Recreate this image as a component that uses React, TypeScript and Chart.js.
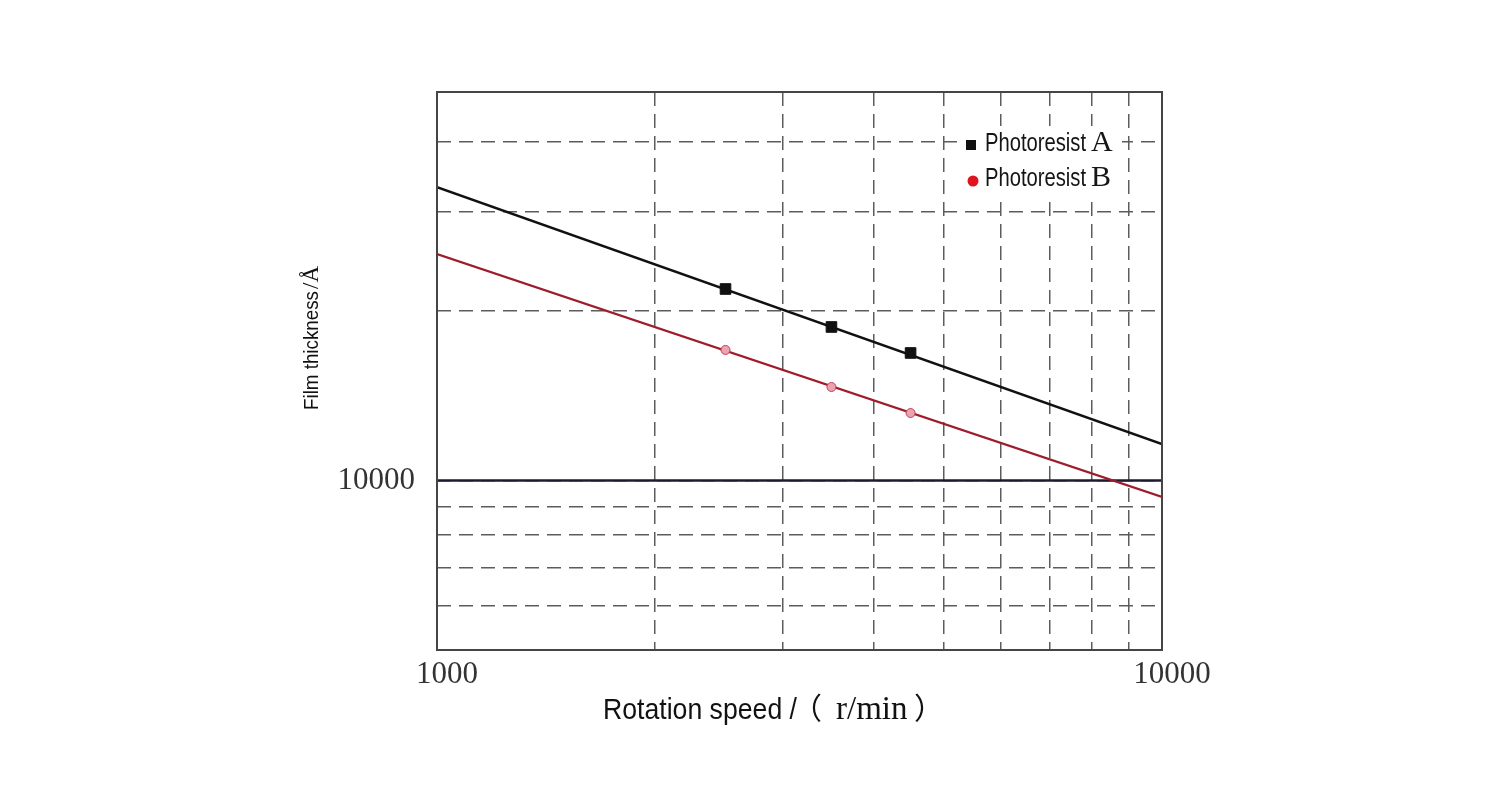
import React, { useEffect, useRef } from "react";
import { Chart, registerables } from "chart.js";

Chart.register(...registerables);

// ---- data ----
const speedFit = [1000, 10000];
const fitA = [33200, 11610];
const fitB = [25250, 9350];
const speedPoints = [2500, 3500, 4500];
const thickA = [21890, 18740, 16850];
const thickB = [17060, 14660, 13180];
const refThickness = [10000, 10000];
const xGridValues = [1000, 2000, 3000, 4000, 5000, 6000, 7000, 8000, 9000, 10000];
const yGridValues = [5000, 6000, 7000, 8000, 9000, 10000, 20000, 30000, 40000];
const xTickLabels = [1000, 10000];
const yTickLabels = [10000];
const yMin = 5000;
const yMax = 49000;
const seriesNames = ["Photoresist", "Photoresist"];
const seriesLetters = ["A", "B"];
const xTitleMain = "Rotation speed /";
const xTitleUnit = ["（", "r/min", "）"];
const yTitleMain = "Film thickness";
const yTitleUnit = "/Å";

const SANS = '"Liberation Sans", Arial, sans-serif';
const SERIF = '"Liberation Serif", "Times New Roman", serif';
const CJK_SERIF = '"Liberation Serif", "Noto Sans CJK SC", serif';

function drawFitted(ctx: CanvasRenderingContext2D, text: string, x: number, y: number, font: string, width: number) {
  ctx.font = font;
  const w = ctx.measureText(text).width;
  ctx.save();
  ctx.translate(x, y);
  ctx.scale(width / w, 1);
  ctx.textAlign = "left";
  ctx.textBaseline = "alphabetic";
  ctx.fillText(text, 0, 0);
  ctx.restore();
}

const decorPlugin = {
  id: "decor",
  afterDraw(chart: any) {
    const { ctx, chartArea: a } = chart;
    ctx.save();
    // frame
    ctx.strokeStyle = "#454545";
    ctx.lineWidth = 2;
    ctx.setLineDash([]);
    ctx.strokeRect(a.left, a.top, a.right - a.left, a.bottom - a.top);

    // legend
    const lx = a.right - 205;
    const ly = a.top + 34;
    ctx.fillStyle = "#ffffff";
    ctx.fillRect(lx, ly, 165, 72);
    ctx.fillStyle = "#111";
    ctx.fillRect(lx + 9, ly + 14, 10, 10);
    ctx.fillStyle = "#e0141e";
    ctx.beginPath();
    ctx.arc(lx + 16, ly + 55, 5.5, 0, Math.PI * 2);
    ctx.fill();
    ctx.fillStyle = "#151515";
    drawFitted(ctx, seriesNames[0], lx + 28, ly + 25, `25px ${SANS}`, 101);
    drawFitted(ctx, seriesNames[1], lx + 28, ly + 60, `25px ${SANS}`, 101);
    ctx.font = `30px ${SERIF}`;
    ctx.fillText(seriesLetters[0], lx + 134, ly + 25);
    ctx.fillText(seriesLetters[1], lx + 134, ly + 60);

    // x title
    ctx.fillStyle = "#111";
    drawFitted(ctx, xTitleMain, 603, 719, `30px ${SANS}`, 194);
    ctx.font = `30px ${CJK_SERIF}`;
    ctx.fillText(xTitleUnit[0], 792, 719);
    ctx.font = `33px ${SERIF}`;
    ctx.fillText(xTitleUnit[1], 836, 719);
    ctx.font = `30px ${CJK_SERIF}`;
    ctx.fillText(xTitleUnit[2], 914, 719);

    // y title
    ctx.save();
    ctx.translate(318, 410);
    ctx.rotate(-Math.PI / 2);
    drawFitted(ctx, yTitleMain, 0, 0, `21px ${SANS}`, 119);
    ctx.font = `23px ${SERIF}`;
    ctx.fillText(yTitleUnit, 121, 0);
    ctx.restore();

    ctx.restore();
  },
};

export default function App() {
  const ref = useRef<HTMLCanvasElement>(null);
  useEffect(() => {
    if (!ref.current) return;
    const pts = (xs: number[], ys: number[]) => xs.map((x, i) => ({ x, y: ys[i] }));
    const gridColor = (ctx: any) => {
      const v = ctx.tick && ctx.tick.value;
      return v === 1000 || v === 10000 ? "rgba(0,0,0,0)" : "#5c5c5c";
    };
    const yGridColor = (ctx: any) => {
      const v = ctx.tick && ctx.tick.value;
      return v === 5000 ? "rgba(0,0,0,0)" : "#5c5c5c";
    };
    const chart = new Chart(ref.current, {
      type: "scatter",
      data: {
        datasets: [
          {
            label: "Photoresist A points",
            data: pts(speedPoints, thickA),
            pointStyle: "rect",
            pointRadius: 7.5,
            pointBackgroundColor: "#111",
            pointBorderColor: "#111",
            pointBorderWidth: 1,
            showLine: false,
          },
          {
            label: "Photoresist B points",
            data: pts(speedPoints, thickB),
            pointStyle: "circle",
            pointRadius: 4.5,
            pointBackgroundColor: "#eaa3b1",
            pointBorderColor: "#c8404f",
            pointBorderWidth: 1,
            showLine: false,
          },
          {
            label: "Photoresist A",
            data: pts(speedFit, fitA),
            showLine: true,
            borderColor: "#111",
            borderWidth: 2.6,
            pointRadius: 0,
          },
          {
            label: "Photoresist B",
            data: pts(speedFit, fitB),
            showLine: true,
            borderColor: "#9e1c2c",
            borderWidth: 2.2,
            pointRadius: 0,
          },
          {
            label: "reference",
            data: pts(speedFit, refThickness),
            showLine: true,
            borderColor: "#1c1c30",
            borderWidth: 2.5,
            pointRadius: 0,
          },
        ],
      },
      options: {
        animation: false,
        responsive: false,
        devicePixelRatio: 1,
        layout: { padding: { left: 0, top: 92, right: 338, bottom: 0 } },
        plugins: { legend: { display: false }, tooltip: { enabled: false } },
        scales: {
          x: {
            type: "logarithmic",
            min: 1000,
            max: 10000,
            afterBuildTicks: (s: any) => {
              s.ticks = xGridValues.map((v) => ({ value: v }));
            },
            afterFit: (s: any) => {
              s.height = 150;
            },
            ticks: {
              autoSkip: false,
              maxRotation: 0,
              padding: 6,
              labelOffset: 10,
              color: "#333",
              font: { family: SERIF, size: 31 },
              callback: (v: any) => (xTickLabels.includes(Number(v)) ? String(v) : ""),
            },
            grid: { color: gridColor, lineWidth: 1.5, drawTicks: false, borderDash: [14, 8] } as any,
            border: { display: false, dash: [14, 8] },
            title: { display: false },
          },
          y: {
            type: "logarithmic",
            min: yMin,
            max: yMax,
            afterBuildTicks: (s: any) => {
              s.ticks = yGridValues.map((v) => ({ value: v }));
            },
            afterFit: (s: any) => {
              s.width = 437;
            },
            ticks: {
              autoSkip: false,
              padding: 22,
              color: "#333",
              font: { family: SERIF, size: 31 },
              callback: (v: any) => (yTickLabels.includes(Number(v)) ? String(v) : ""),
            },
            grid: { color: yGridColor, lineWidth: 1.5, drawTicks: false, borderDash: [14, 8] } as any,
            border: { display: false, dash: [14, 8] },
            title: { display: false },
          },
        },
      } as any,
      plugins: [decorPlugin],
    });
    return () => chart.destroy();
  }, []);
  return (
    <div style={{ position: "fixed", left: 0, top: 0, width: 1500, height: 800, background: "#fff" }}>
      <canvas ref={ref} width={1500} height={800} style={{ width: 1500, height: 800, display: "block" }} />
    </div>
  );
}
